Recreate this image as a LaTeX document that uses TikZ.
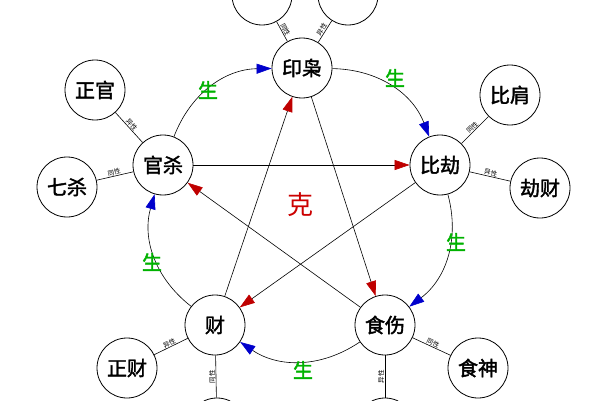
\documentclass[tikz,border=0pt]{standalone}
\usepackage{fontspec}
\setmainfont{Noto Sans CJK SC}[AutoFakeBold=2]
\usetikzlibrary{arrows.meta}
\tikzset{
  god/.style={draw,circle,thick,minimum size=60pt,inner sep=0pt,font=\bfseries\fontsize{20}{20}\selectfont},
  gen/.style={semithick,-{Triangle[color=blue!80!black,length=15pt,width=10pt]}},
  ke/.style={semithick,-{Triangle[color=red!75!black,length=15pt,width=10pt]}},
  lab/.style={midway,sloped,above,inner sep=0.5pt,font=\fontsize{6.5}{6.5}\selectfont},
  sheng/.style={text=green!70!black,font=\bfseries\fontsize{20}{20}\selectfont}
}
\begin{document}
\begin{tikzpicture}[x=1pt,y=1pt]
	\useasboundingbox (0,0) rectangle (600,400);
	\clip (0,0) rectangle (600,400);
	\fill[white] (0,0) rectangle (600,400);
	
	%five groups
	\node[god] (yin) at (302,332) {印枭};
	\node[god] (bi) at (440,235) {比劫};
	\node[god] (shi) at (385,75) {食伤};
	\node[god] (cai) at (215,75) {财};
	\node[god] (guan) at (163,235) {官杀};
	
	%outer gods
	\node[god] (top1) at (262,405) {};
	\node[god] (top2) at (348,405) {};
	\node[god] (zg) at (95,310) {正官};
	\node[god] (qs) at (67,213) {七杀};
	\node[god] (bj) at (510,305) {比肩};
	\node[god] (jc) at (540,212) {劫财};
	\node[god] (zc) at (127,32) {正财};
	\node[god] (ss) at (478,32) {食神};
	\node[god] (bot1) at (217,-28) {};
	\node[god] (bot2) at (385,-28) {};
	
	%spokes
	\draw[semithick] (yin) -- node[lab]{同性} (top1);
	\draw[semithick] (yin) -- node[lab]{异性} (top2);
	\draw[semithick] (guan) -- node[lab]{异性} (zg);
	\draw[semithick] (guan) -- node[lab]{同性} (qs);
	\draw[semithick] (bi) -- node[lab]{同性} (bj);
	\draw[semithick] (bi) -- node[lab]{异性} (jc);
	\draw[semithick] (cai) -- node[lab]{异性} (zc);
	\draw[semithick] (cai) -- node[lab,rotate=180]{同性} (bot1);
	\draw[semithick] (shi) -- node[lab]{同性} (ss);
	\draw[semithick] (shi) -- node[lab,rotate=180]{异性} (bot2);
	
	%sheng cycle
	\draw[gen] (yin) to[bend left=34] (bi);
	\draw[gen] (bi) to[bend left=34] (shi);
	\draw[gen] (shi) to[bend left=34] (cai);
	\draw[gen] (cai) to[bend left=34] (guan);
	\draw[gen] (guan) to[bend left=34] (yin);
	\node[sheng] (s1) at (208,310) {生};
	\node[sheng] (s2) at (395,322) {生};
	\node[sheng] (s3) at (456,158) {生};
	\node[sheng] (s4) at (303,30) {生};
	\node[sheng] (s5) at (152,138) {生};
	
	%ke star
	\draw[ke] (guan) -- (bi);
	\draw[ke] (bi) -- (cai);
	\draw[ke] (cai) -- (yin);
	\draw[ke] (yin) -- (shi);
	\draw[ke] (shi) -- (guan);
	\node[text=red!80!black,font=\fontsize{26}{26}\selectfont] (ke) at (300,195) {克};
\end{tikzpicture}
\end{document}
